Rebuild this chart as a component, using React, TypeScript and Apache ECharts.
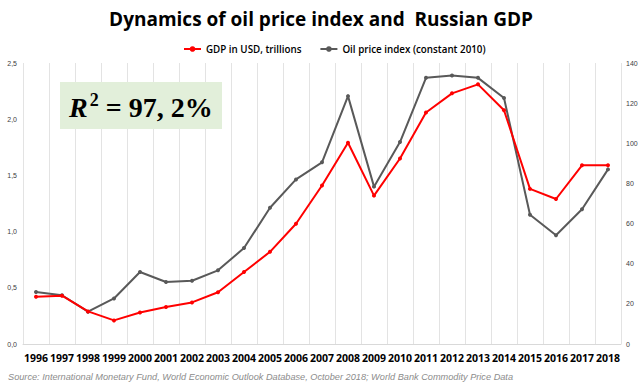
import React, { useEffect, useRef } from "react";
import * as echarts from "echarts";

const years = ["1996","1997","1998","1999","2000","2001","2002","2003","2004","2005","2006","2007","2008","2009","2010","2011","2012","2013","2014","2015","2016","2017","2018"];
const gdp = [0.42,0.43,0.29,0.21,0.28,0.33,0.37,0.46,0.64,0.82,1.07,1.41,1.79,1.32,1.65,2.06,2.23,2.31,2.08,1.38,1.29,1.59,1.59];
const oil = [25.9,24.3,16.1,22.7,35.9,30.9,31.5,36.7,47.8,67.9,82.0,90.5,123.5,78.4,100.6,132.6,133.8,132.6,122.6,64.4,54.2,67.1,87.0];
const titleText = "Dynamics of oil price index and  Russian GDP";
const sourceText = "Source: International Monetary Fund, World Economic Outlook Database, October 2018; World Bank Commodity Price Data";

export default function App() {
  const ref = useRef<HTMLDivElement>(null);
  useEffect(() => {
    const chart = echarts.init(ref.current!, null, { renderer: "svg" });
    chart.setOption({
      animation: false,
      backgroundColor: "#fff",
      title: {
        text: titleText,
        left: "center",
        top: 4,
        textStyle: { fontFamily: "Open Sans", fontWeight: "bold", fontSize: 19, color: "#000" },
      },
      legend: {
        top: 39,
        left: 178,
        itemGap: 18,
        itemWidth: 17,
        itemHeight: 7,
        textStyle: { fontFamily: "Open Sans", fontSize: 9.8, color: "#000", fontWeight: 600 },
        data: ["GDP in USD, trillions", "Oil price index (constant 2010)"],
      },
      grid: { left: 23, right: 21, top: 63, bottom: 44, containLabel: false },
      xAxis: {
        type: "category",
        data: years,
        boundaryGap: true,
        axisLine: { lineStyle: { color: "#d9d9d9" } },
        axisTick: { show: false },
        axisLabel: { fontFamily: "Open Sans", fontWeight: "bold", fontSize: 10.5, color: "#000", margin: 8, interval: 0 },
        splitLine: { show: true, interval: 0, lineStyle: { color: "#e3e3e3", width: 1 } },
      },
      yAxis: [
        {
          type: "value",
          min: 0,
          max: 2.5,
          interval: 0.5,
          axisLine: { show: false },
          axisTick: { show: false },
          splitLine: { show: false },
          axisLabel: {
            fontFamily: "Liberation Sans",
            fontSize: 7,
            color: "#404040",
            margin: 6,
            formatter: (v: number) => v.toFixed(1).replace(".", ","),
          },
        },
        {
          type: "value",
          min: 0,
          max: 140,
          interval: 20,
          axisLine: { show: false },
          axisTick: { show: false },
          splitLine: { show: false },
          axisLabel: { fontFamily: "Liberation Sans", fontSize: 7, color: "#404040", margin: 5 },
        },
      ],
      series: [
        {
          name: "GDP in USD, trillions",
          type: "line",
          data: gdp,
          yAxisIndex: 0,
          symbol: "circle",
          symbolSize: 4,
          itemStyle: { color: "#ff0000" },
          lineStyle: { color: "#ff0000", width: 2 },
          z: 3,
        },
        {
          name: "Oil price index (constant 2010)",
          type: "line",
          data: oil,
          yAxisIndex: 1,
          symbol: "circle",
          symbolSize: 4,
          itemStyle: { color: "#595959" },
          lineStyle: { color: "#595959", width: 2 },
          z: 2,
        },
      ],
      graphic: [
        {
          type: "rect",
          shape: { x: 60, y: 82, width: 162, height: 47 },
          style: { fill: "#e2efda" },
          z: 10,
        },
        {
          type: "text",
          x: 69,
          y: 107,
          style: {
            text: "{r|R}{s|2}{t| = 97, 2%}",
            verticalAlign: "middle",
            rich: {
              r: { fontFamily: "Liberation Serif", fontStyle: "italic", fontWeight: "bold", fontSize: 28, fill: "#000" },
              s: { fontFamily: "Liberation Serif", fontWeight: "bold", fontSize: 18, fill: "#000", verticalAlign: "top", padding: [0, 0, 14, 2] },
              t: { fontFamily: "Liberation Serif", fontWeight: "bold", fontSize: 28, fill: "#000" },
            },
          },
          z: 11,
        },
        {
          type: "text",
          x: 8,
          y: 377,
          style: {
            text: sourceText,
            fontFamily: "Liberation Sans",
            fontStyle: "italic",
            fontSize: 9.2,
            fill: "#8c8c8c",
            verticalAlign: "middle",
          },
        },
      ],
    });
    return () => chart.dispose();
  }, []);
  return <div ref={ref} style={{ width: 642, height: 388, position: "absolute", left: 0, top: 0 }} />;
}
